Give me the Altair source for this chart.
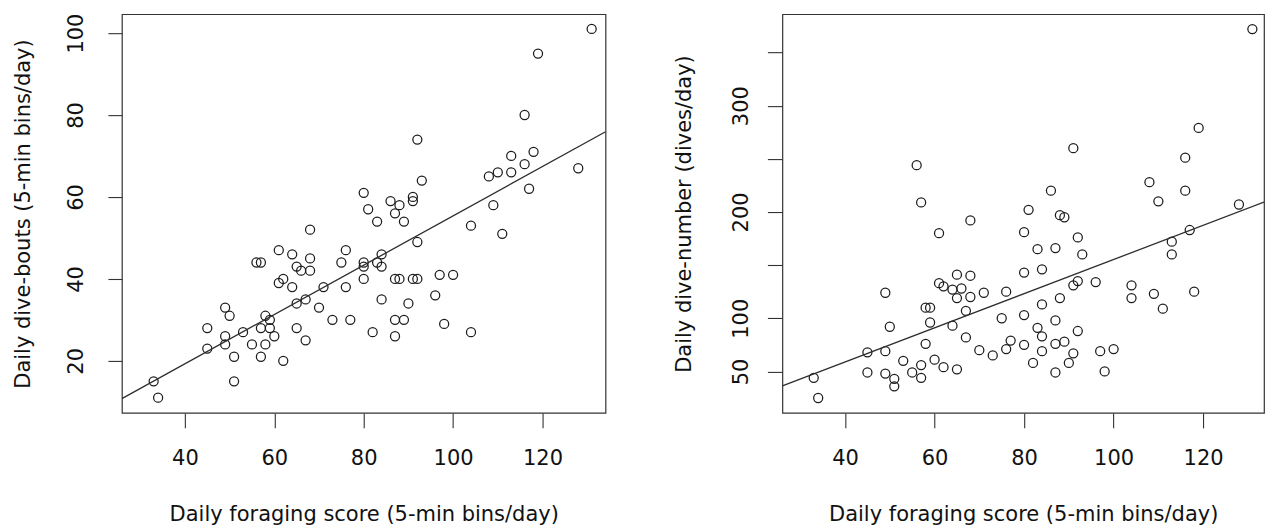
import altair as alt
import pandas as pd

# ---------------- data ----------------
left_score = [131, 119, 116, 92, 113, 118, 116, 128, 108, 110, 113, 93, 117, 80, 81, 86, 88, 87, 91, 91,
              83, 89, 109, 104, 111, 92, 68, 76, 84,
              61, 64, 68, 56, 57, 65, 66, 68, 62, 61, 64, 71, 67, 65, 70, 49, 50, 58, 59, 57, 59,
              45, 53, 49, 60, 65, 67, 45, 49, 55, 58, 51, 57, 62, 51, 33, 34,
              75, 80, 80, 83, 84, 80, 87, 88, 91, 92, 97, 100, 76, 96, 84, 90, 73, 77, 87, 89,
              98, 82, 87, 104]
left_bouts = [101, 95, 80, 74, 70, 71, 68, 67, 65, 66, 66, 64, 62, 61, 57, 59, 58, 56, 60, 59,
              54, 54, 58, 53, 51, 49, 52, 47, 46,
              47, 46, 45, 44, 44, 43, 42, 42, 40, 39, 38, 38, 35, 34, 33, 33, 31, 31, 30, 28, 28,
              28, 27, 26, 26, 28, 25, 23, 24, 24, 24, 21, 21, 20, 15, 15, 11,
              44, 44, 43, 44, 43, 40, 40, 40, 40, 40, 41, 41, 38, 36, 35, 34, 30, 30, 30, 30,
              29, 27, 26, 27]

right_score = [56, 57, 68, 131, 119, 91, 116, 108, 116, 86, 110, 128, 81, 88, 89, 80, 83, 87, 92, 93,
               117, 113, 113, 80, 84, 68, 65, 66, 68, 71, 76, 67, 91, 92, 96, 104, 104, 109, 111, 118,
               88, 84, 75, 80, 87, 83, 84, 92, 67, 77, 76, 70, 73, 80, 84, 87, 89, 91, 90, 82,
               87, 97, 100, 98, 65,
               61, 61, 62, 64, 65, 58, 59, 49, 59, 64, 50, 58, 45, 49, 53, 60, 57, 62, 45, 49,
               55, 57, 51, 51, 33, 34]
right_dives = [244, 209, 192, 372, 279, 260, 251, 228, 220, 220, 210, 207, 202, 197, 195, 181, 165, 166, 176, 160,
               183, 172, 160, 143, 146, 140, 141, 128, 120, 124, 125, 107, 131, 135, 134, 131, 119, 123, 109, 125,
               119, 113, 100, 103, 98, 91, 83, 88, 82, 79, 71, 70, 65, 75, 69, 76, 78, 67, 58, 58,
               49, 69, 71, 50, 52,
               180, 133, 130, 127, 119, 110, 110, 124, 96, 93, 92, 76, 68, 69, 60, 61, 56, 54, 49, 48,
               49, 44, 43, 36, 44, 25]

x_ticks = [40, 60, 80, 100, 120]
left_y_ticks = [20, 40, 60, 80, 100]
right_y_ticks = [50, 100, 150, 200, 250, 300, 350]

x_title = "Daily foraging score (5-min bins/day)"
left_y_title = "Daily dive-bouts (5-min bins/day)"
right_y_title = "Daily dive-number (dives/day)"

left_df = pd.DataFrame({"score": left_score, "value": left_bouts})
right_df = pd.DataFrame({"score": right_score, "value": right_dives})

# ---------------- styling ----------------
FONT = "DejaVu Sans"
INK = "#1c1c1c"
PLOT_H = 399


def panel(df, width, xdom, ydom, yticks, ytitle, tick_y, label_pad, title_x, label_expr=None):
    xscale = alt.Scale(domain=xdom, nice=False, zero=False)
    yscale = alt.Scale(domain=ydom, nice=False, zero=False)
    xaxis = alt.Axis(values=x_ticks, title=x_title, tickSize=15, labelPadding=20,
                     labelFlush=False, labelOverlap=False, grid=False, domain=False,
                     titleX=width / 2, titleY=108, titleAlign="center",
                     titleBaseline="alphabetic", titleAnchor="middle")
    ykw = dict(values=yticks, title=ytitle, tickSize=tick_y, labelPadding=label_pad,
               labelAngle=270, labelAlign="center", labelBaseline="alphabetic",
               labelOverlap=False, labelFlush=False, grid=False, domain=False,
               titleAngle=270, titleX=title_x, titleY=PLOT_H / 2, titleAlign="center",
               titleBaseline="alphabetic")
    if label_expr:
        ykw["labelExpr"] = label_expr
    yaxis = alt.Axis(**ykw)

    pts = alt.Chart(df).mark_point(
        shape="circle", filled=False, size=82, strokeWidth=1.25, color=INK, opacity=1
    ).encode(
        x=alt.X("score:Q", scale=xscale, axis=xaxis),
        y=alt.Y("value:Q", scale=yscale, axis=yaxis),
    )
    line = alt.Chart(df).transform_regression(
        "score", "value", extent=list(xdom)
    ).mark_line(color="#2e2e2e", strokeWidth=1.3, clip=True).encode(
        x=alt.X("score:Q", scale=xscale),
        y=alt.Y("value:Q", scale=yscale),
    )
    return alt.layer(pts, line).properties(width=width, height=PLOT_H)


left = panel(left_df, 484, (25.9, 134.1), (7.3, 104.6), left_y_ticks, left_y_title,
             14, 25, -92.5)
right = panel(right_df, 482, (26.0, 133.6), (11, 386), right_y_ticks, right_y_title,
              15, 20, -92,
              label_expr="indexof([50, 100, 200, 300], datum.value) >= 0 ? datum.label : ''")

chart = alt.hconcat(left, right, spacing=177, bounds="flush").properties(
    padding={"left": 11, "top": 12, "right": 0, "bottom": 0},
    background="white",
).configure(font=FONT).configure_view(
    stroke="#333333", strokeWidth=1.2
).configure_axis(
    labelFont=FONT, titleFont=FONT, labelFontSize=21, titleFontSize=21,
    labelColor="#111111", titleColor="#111111", titleFontWeight="normal",
    tickColor="#333333", tickWidth=1.1,
)

chart.save("out.html", embed_options={"renderer": "svg", "actions": False})
